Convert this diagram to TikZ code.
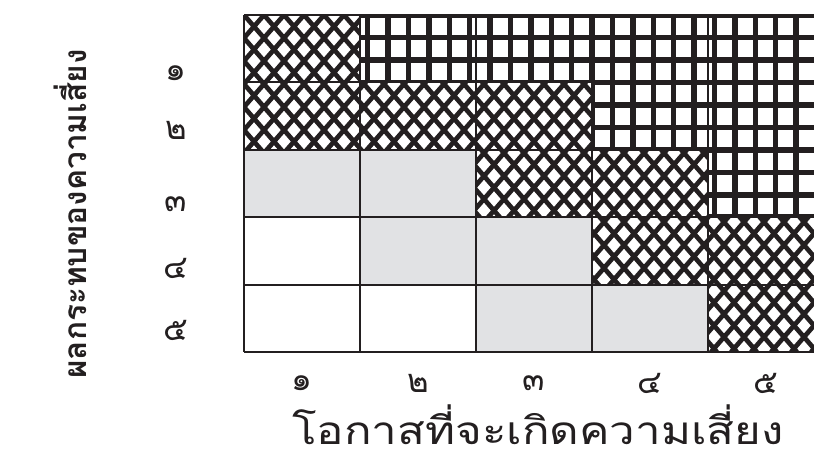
\documentclass[tikz,border=0pt]{standalone}
\usepackage{fontspec}
\newfontfamily\thaifont[Script=Thai]{Loma}

\definecolor{inkblack}{RGB}{35,31,32}
\definecolor{cellgray}{RGB}{225,226,228}

\begin{document}
\begin{tikzpicture}[x=0.3mm, y=-0.3mm,
  tableline/.style={line width=1.7pt, draw=inkblack},
  meshline/.style={line width=1.4mm, draw=inkblack},
  cell d/.style={fill=white},
  cell g/.style={fill=white},
  cell s/.style={fill=cellgray},
  cell w/.style={fill=white},
  numlabel/.style={font=\thaifont\fontsize{28}{32}\selectfont, text=inkblack}]
  \useasboundingbox (0,0) rectangle (814,454);
  \clip (0,0) rectangle (814,454);

  % Risk matrix cells
  \foreach \row/\kinds in {1/{d,g,g,g,g}, 2/{d,d,d,g,g}, 3/{s,s,d,d,g},
                           4/{w,s,s,d,d}, 5/{w,w,s,s,d}}{
    \foreach \k [count=\col] in \kinds {
      \pgfmathsetmacro{\xa}{244 + (\col-1)*116}
      \pgfmathsetmacro{\ya}{15 + (\row-1)*67.4}
      \fill[cell \k] (\xa, \ya) rectangle ++(116, 67.4);
    }
  }

  % Diamond mesh (medium cells)
  \begin{scope}
    \clip foreach \c/\r in {1/1, 1/2, 2/2, 3/2, 3/3, 4/3, 4/4, 5/4, 5/5}
      {({244+(\c-1)*116}, {15+(\r-1)*67.4}) rectangle ++(116, 67.4)};
    \foreach \k in {-16,...,46}{
      \draw[meshline] ({244+20*\k}, 15) -- ({244+20*\k+293}, 352);
      \draw[meshline] ({244+20*\k}, 15) -- ({244+20*\k-293}, 352);
    }
  \end{scope}

  % Square mesh (high cells)
  \begin{scope}
    \clip foreach \c/\r in {2/1, 3/1, 4/1, 5/1, 4/2, 5/2, 5/3}
      {({244+(\c-1)*116}, {15+(\r-1)*67.4}) rectangle ++(116, 67.4)};
    \foreach \k in {-13,...,11}
      \draw[meshline, line width=1.65mm] ({612.5+20.4*\k}, 15) -- ({612.5+20.4*\k}, 352);
    \foreach \k in {0,...,15}
      \draw[meshline, line width=1.65mm] (244, {15+22.47*\k}) -- (824, {15+22.47*\k});
  \end{scope}

  % Table lines
  \foreach \i in {0,...,5}{
    \draw[tableline] ({244+\i*116}, 15) -- ({244+\i*116}, 352);
    \draw[tableline] (244, {15+\i*67.4}) -- (824, {15+\i*67.4});
  }

  % Impact levels
  \foreach \y/\d [count=\i] in {73/๑, 130/๒, 204/๓, 268/๔, 330/๕}
    \node[numlabel] (impact\i) at (176, \y) {\d};

  % Likelihood levels
  \foreach \d [count=\i] in {๑, ๒, ๓, ๔, ๕}
    \node[numlabel] (chance\i) at ({244+116*\i-58}, 383) {\d};

  % Axis titles
  \node[rotate=90, text=inkblack, font=\thaifont\bfseries\fontsize{27}{31}\selectfont]
    (impacttitle) at (70, 214) {ผลกระทบของความเสี่ยง};
  \node[anchor=base, inner sep=0pt, xscale=1.18, text=inkblack,
        font=\thaifont\fontsize{33}{38}\selectfont]
    (chancetitle) at (538, 444) {โอกาสที่จะเกิดความเสี่ยง};
\end{tikzpicture}
\end{document}
